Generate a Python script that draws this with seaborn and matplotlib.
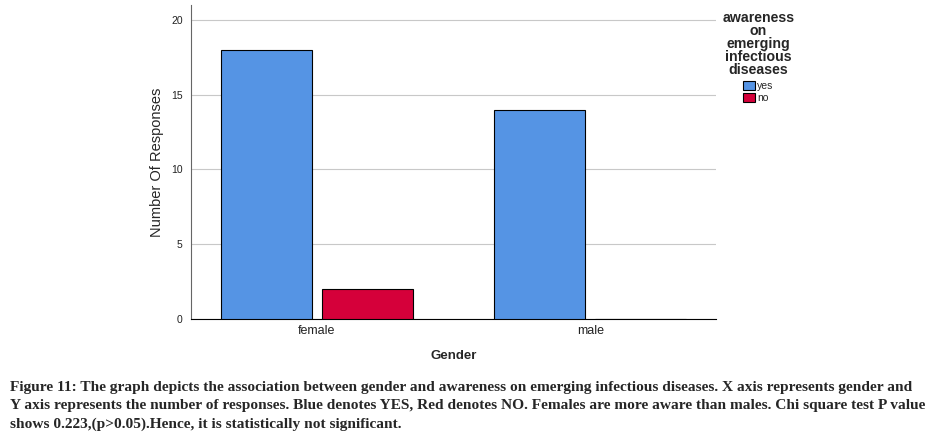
import pandas as pd
import matplotlib
matplotlib.use("Agg")
import matplotlib.pyplot as plt
import seaborn as sns

genders = ["female", "female", "male", "male"]
awareness = ["yes", "no", "yes", "no"]
responses = [18, 2, 14, 0]

caption = ("Figure 11: The graph depicts the association between gender and awareness on emerging infectious diseases. X axis represents gender and\n"
           "Y axis represents the number of responses. Blue denotes YES, Red denotes NO. Females are more aware than males. Chi square test P value\n"
           "shows 0.223,(p>0.05).Hence, it is statistically not significant.")

df = pd.DataFrame({"Gender": genders, "awareness": awareness, "Responses": responses})

sns.set_style("white")
plt.rcParams["font.family"] = ["Liberation Sans", "DejaVu Sans"]

fig = plt.figure(figsize=(9.46, 4.41), dpi=100)
ax = fig.add_axes([191 / 946, 122 / 441, 525 / 946, 314 / 441])

sns.barplot(data=df, x="Gender", y="Responses", hue="awareness",
            palette={"yes": "#5594e4", "no": "#d5003a"}, saturation=1,
            width=0.74, gap=0.1, edgecolor="black", linewidth=0.8,
            ax=ax, zorder=3)

ax.set_xlim(-0.46, 1.46)
ax.set_ylim(0, 21)
ax.set_yticks([0, 5, 10, 15, 20])
ax.yaxis.grid(True, color="#c8c8c8", linewidth=0.8, zorder=0)
ax.tick_params(axis="y", length=4, color="#a0a0a0", labelsize=7.5, labelcolor="#222222", pad=2)
ax.tick_params(axis="x", length=0, labelsize=9, labelcolor="#222222", pad=4)
for s in ["top", "right"]:
    ax.spines[s].set_visible(False)
ax.spines["left"].set_color("#666666")
ax.spines["bottom"].set_color("black")
ax.spines["left"].set_linewidth(0.8)
ax.spines["bottom"].set_linewidth(0.8)

ax.set_ylabel("Number Of Responses", fontsize=10.5, labelpad=5)
ax.set_xlabel("Gender", fontsize=9.5, fontweight="bold", labelpad=10)

leg = ax.legend(title="awareness\non\nemerging\ninfectious\ndiseases",
                loc="upper left", bbox_to_anchor=(1.0, 1.0), frameon=False,
                fontsize=7.5, handlelength=1.2, handleheight=1.0,
                handletextpad=0.2, labelspacing=0.15, borderaxespad=0.2)
leg.get_title().set_fontweight("bold")
leg.get_title().set_fontsize(10.2)
leg.get_title().set_multialignment("center")
leg.get_title().set_linespacing(0.9)
leg._legend_box.align = "center"
leg._legend_box.sep = 3

fig.text(10 / 946, 1 - 381 / 441, caption, ha="left", va="top",
         fontsize=11.1, fontweight="bold", family="Liberation Serif",
         linespacing=1.5)

fig.savefig("out.png", dpi=100)
